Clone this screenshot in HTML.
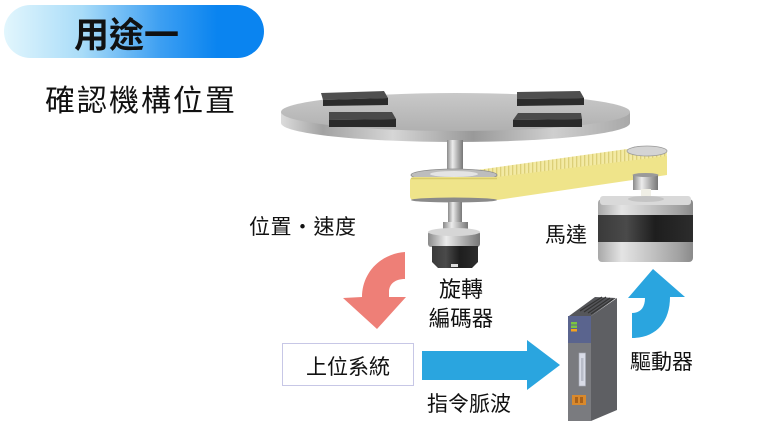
<!DOCTYPE html>
<html>
<head>
<meta charset="utf-8">
<style>
  html,body{margin:0;padding:0;background:#fff;}
  body{width:769px;height:421px;overflow:hidden;position:relative;}
  svg{position:absolute;left:0;top:0;}
  text{font-family:"Liberation Sans","Noto Sans CJK TC",sans-serif;fill:#111;}
</style>
</head>
<body>
<svg width="769" height="421" viewBox="0 0 769 421" xmlns="http://www.w3.org/2000/svg">
  <defs>
    <linearGradient id="pill" x1="0" y1="0" x2="1" y2="0">
      <stop offset="0" stop-color="#e2f6fd"/>
      <stop offset="0.3" stop-color="#a9dcf8"/>
      <stop offset="0.6" stop-color="#3d9ff2"/>
      <stop offset="0.82" stop-color="#0a84f0"/>
      <stop offset="1" stop-color="#0a84f0"/>
    </linearGradient>
    <linearGradient id="rim" x1="0" y1="0" x2="1" y2="0">
      <stop offset="0" stop-color="#dcdcdc"/>
      <stop offset="0.12" stop-color="#a2a2a2"/>
      <stop offset="0.32" stop-color="#d6d6d6"/>
      <stop offset="0.55" stop-color="#999"/>
      <stop offset="0.78" stop-color="#cfcfcf"/>
      <stop offset="1" stop-color="#a8a8a8"/>
    </linearGradient>
    <linearGradient id="tt" x1="0" y1="0" x2="0" y2="1">
      <stop offset="0" stop-color="#c9c9c9"/>
      <stop offset="1" stop-color="#b0b0b0"/>
    </linearGradient>
    <linearGradient id="metalH" x1="0" y1="0" x2="1" y2="0">
      <stop offset="0" stop-color="#8a8a8a"/>
      <stop offset="0.35" stop-color="#ececec"/>
      <stop offset="0.7" stop-color="#aaaaaa"/>
      <stop offset="1" stop-color="#777"/>
    </linearGradient>
    <linearGradient id="motorG" x1="0" y1="0" x2="1" y2="0">
      <stop offset="0" stop-color="#a8a8a8"/>
      <stop offset="0.25" stop-color="#e4e4e4"/>
      <stop offset="0.55" stop-color="#c4c4c4"/>
      <stop offset="0.85" stop-color="#a2a2a2"/>
      <stop offset="1" stop-color="#8a8a8a"/>
    </linearGradient>
    <linearGradient id="darkG" x1="0" y1="0" x2="1" y2="0">
      <stop offset="0" stop-color="#3a3a3a"/>
      <stop offset="0.3" stop-color="#4a4a4a"/>
      <stop offset="0.6" stop-color="#1e1e1e"/>
      <stop offset="1" stop-color="#2c2c2c"/>
    </linearGradient>
    <pattern id="teeth" x="0" y="0" width="4" height="40" patternUnits="userSpaceOnUse">
      <rect width="4" height="40" fill="#f3eaa4"/>
      <rect x="0" width="1.3" height="40" fill="#dccf78"/>
    </pattern>
  </defs>

  <!-- header pill -->
  <rect x="4" y="5" width="260" height="53" rx="26.5" fill="url(#pill)"/>
  <text x="74" y="47.5" font-size="35" font-weight="700">用途一</text>

  <!-- title -->
  <text x="45" y="111" font-size="30" letter-spacing="2">確認機構位置</text>

  <!-- turntable -->
  <ellipse cx="455.5" cy="123" rx="174.5" ry="19" fill="url(#rim)"/>
  <rect x="281" y="112" width="349" height="11" fill="url(#rim)"/>
  <ellipse cx="455.5" cy="112" rx="174.5" ry="19" fill="url(#tt)"/>

  <!-- blocks -->
  <polygon points="321,93 384,91 388,98 323,100" fill="#4f4f4f"/>
  <polygon points="323,100 388,98 388,105 323,106" fill="#2c2c2c"/>
  <polygon points="517,92 580,91 584,98 517,99" fill="#4f4f4f"/>
  <polygon points="517,99 584,98 584,105 517,106" fill="#2c2c2c"/>
  <polygon points="329,112 392,112 396,119 329,120" fill="#4a4a4a"/>
  <polygon points="329,120 396,119 396,127 329,127" fill="#2a2a2a"/>
  <polygon points="518,113 581,113 582,119 513,120" fill="#4a4a4a"/>
  <polygon points="513,120 582,119 582,127 513,127" fill="#2a2a2a"/>

  <!-- shaft -->
  <rect x="447" y="140" width="16" height="38" fill="url(#metalH)"/>

  <!-- belt back strand (teeth side) -->
  <polygon points="470,171 627,149 667,152 667,157 497,178 470,178" fill="url(#teeth)"/>
  <!-- left pulley top flange -->
  <ellipse cx="454" cy="175" rx="43" ry="6" fill="#bdbdbd" stroke="#8a8a8a" stroke-width="0.8"/>
  <ellipse cx="454" cy="174" rx="24" ry="3" fill="#e4e4e4"/>
  <!-- belt front strand -->
  <path d="M414,177 L497,177 L667,156 L667,175 L497,200 L414,200 Q410,200 410,196 L410,181 Q410,177 414,177 Z" fill="#efe48a"/>
  <line x1="411" y1="178.5" x2="497" y2="178.5" stroke="#d8cb6a" stroke-width="1.5"/>
  <!-- bottom flange -->
  <ellipse cx="454" cy="200" rx="43" ry="2.5" fill="#8a8a8a"/>
  <!-- right pulley -->
  <ellipse cx="647" cy="151" rx="20" ry="5" fill="#d4d4d4" stroke="#999" stroke-width="0.8"/>
  <rect x="633" y="175" width="25" height="15" fill="url(#metalH)"/>
  <ellipse cx="645.5" cy="175" rx="13" ry="2" fill="#9a9a9a"/>
  <rect x="641" y="189" width="10" height="10" fill="#f0efe6"/>

  <!-- encoder -->
  <rect x="448" y="202" width="14" height="22" fill="url(#metalH)"/>
  <rect x="443" y="222" width="25" height="11" fill="url(#metalH)"/>
  <rect x="428" y="231" width="52" height="16" rx="3" fill="url(#metalH)"/>
  <ellipse cx="454" cy="232" rx="26" ry="4" fill="#d6d6d6"/>
  <path d="M432,246 L478,246 L478,262 L472,268 L438,268 L432,262 Z" fill="url(#darkG)"/>
  <rect x="451" y="264" width="7" height="3" fill="#ddd"/>

  <!-- motor -->
  <rect x="598" y="199" width="95" height="63" rx="4" fill="url(#motorG)"/>
  <rect x="600" y="196" width="91" height="9" rx="3" fill="#d9d9d9"/>
  <ellipse cx="646" cy="199" rx="18" ry="3" fill="#c4c4c4"/>
  <rect x="598" y="215" width="95" height="27" fill="url(#darkG)"/>

  <!-- labels -->
  <text x="249" y="234" font-size="21" letter-spacing="0.5">位置・速度</text>
  <text x="545" y="242" font-size="21">馬達</text>
  <text x="461" y="297" font-size="22" text-anchor="middle">旋轉</text>
  <text x="461" y="326" font-size="21.5" text-anchor="middle">編碼器</text>

  <!-- red curved arrow -->
  <path d="M405,252 C379,254 362,274 362,297 L343,298 L377,329 L406,297 L389,297 L389,292 C389,284 395,279 405,279 Z" fill="#ee7f77"/>

  <!-- blue up arrow -->
  <path d="M632,338 L632,313 C640,313 645,308 645,298 L628,298 L653,269 L685,297 L670,297 C670,322 656,338 632,338 Z" fill="#2aa5df"/>

  <!-- host box -->
  <rect x="282.5" y="343.5" width="131" height="42" fill="#fff" stroke="#c7c7e6" stroke-width="1"/>
  <text x="348" y="374" font-size="21" text-anchor="middle">上位系統</text>

  <!-- blue right arrow -->
  <path d="M422,351 L527,351 L527,340 L560,365 L527,390 L527,380 L422,380 Z" fill="#2aa5df"/>
  <text x="427" y="411" font-size="21">指令脈波</text>

  <text x="630" y="369" font-size="21">驅動器</text>

  <!-- drive unit -->
  <polygon points="569,316 591,316 616,298 595,297" fill="#55565a"/>
  <g stroke="#333" stroke-width="1.2">
    <line x1="580" y1="311" x2="602" y2="297"/>
    <line x1="584" y1="312" x2="606" y2="297"/>
    <line x1="588" y1="313" x2="610" y2="298"/>
    <line x1="591" y1="314" x2="613" y2="299"/>
  </g>
  <polygon points="591,316 617,298 617,410 591,421" fill="#5e5f63"/>
  <rect x="568" y="316" width="23" height="105" fill="#7a7b7f"/>
  <rect x="568" y="316" width="23" height="27" fill="#5a648e"/>
  <rect x="571" y="322" width="6" height="2.5" fill="#7cc442"/>
  <rect x="571" y="325.5" width="6" height="2.5" fill="#7cc442"/>
  <rect x="571" y="329" width="6" height="2.5" fill="#f5a21e"/>
  <rect x="579" y="353" width="6.5" height="33" fill="#d8dbe6" stroke="#a9acb8" stroke-width="0.6"/>
  <rect x="581" y="358" width="2.5" height="23" fill="#b8bcc8"/>
  <rect x="572" y="395" width="14" height="10" fill="#d9892c"/>
  <rect x="575" y="397" width="3" height="6" fill="#a8611a"/>
  <rect x="580" y="397" width="3" height="6" fill="#a8611a"/>
</svg>
</body>
</html>
